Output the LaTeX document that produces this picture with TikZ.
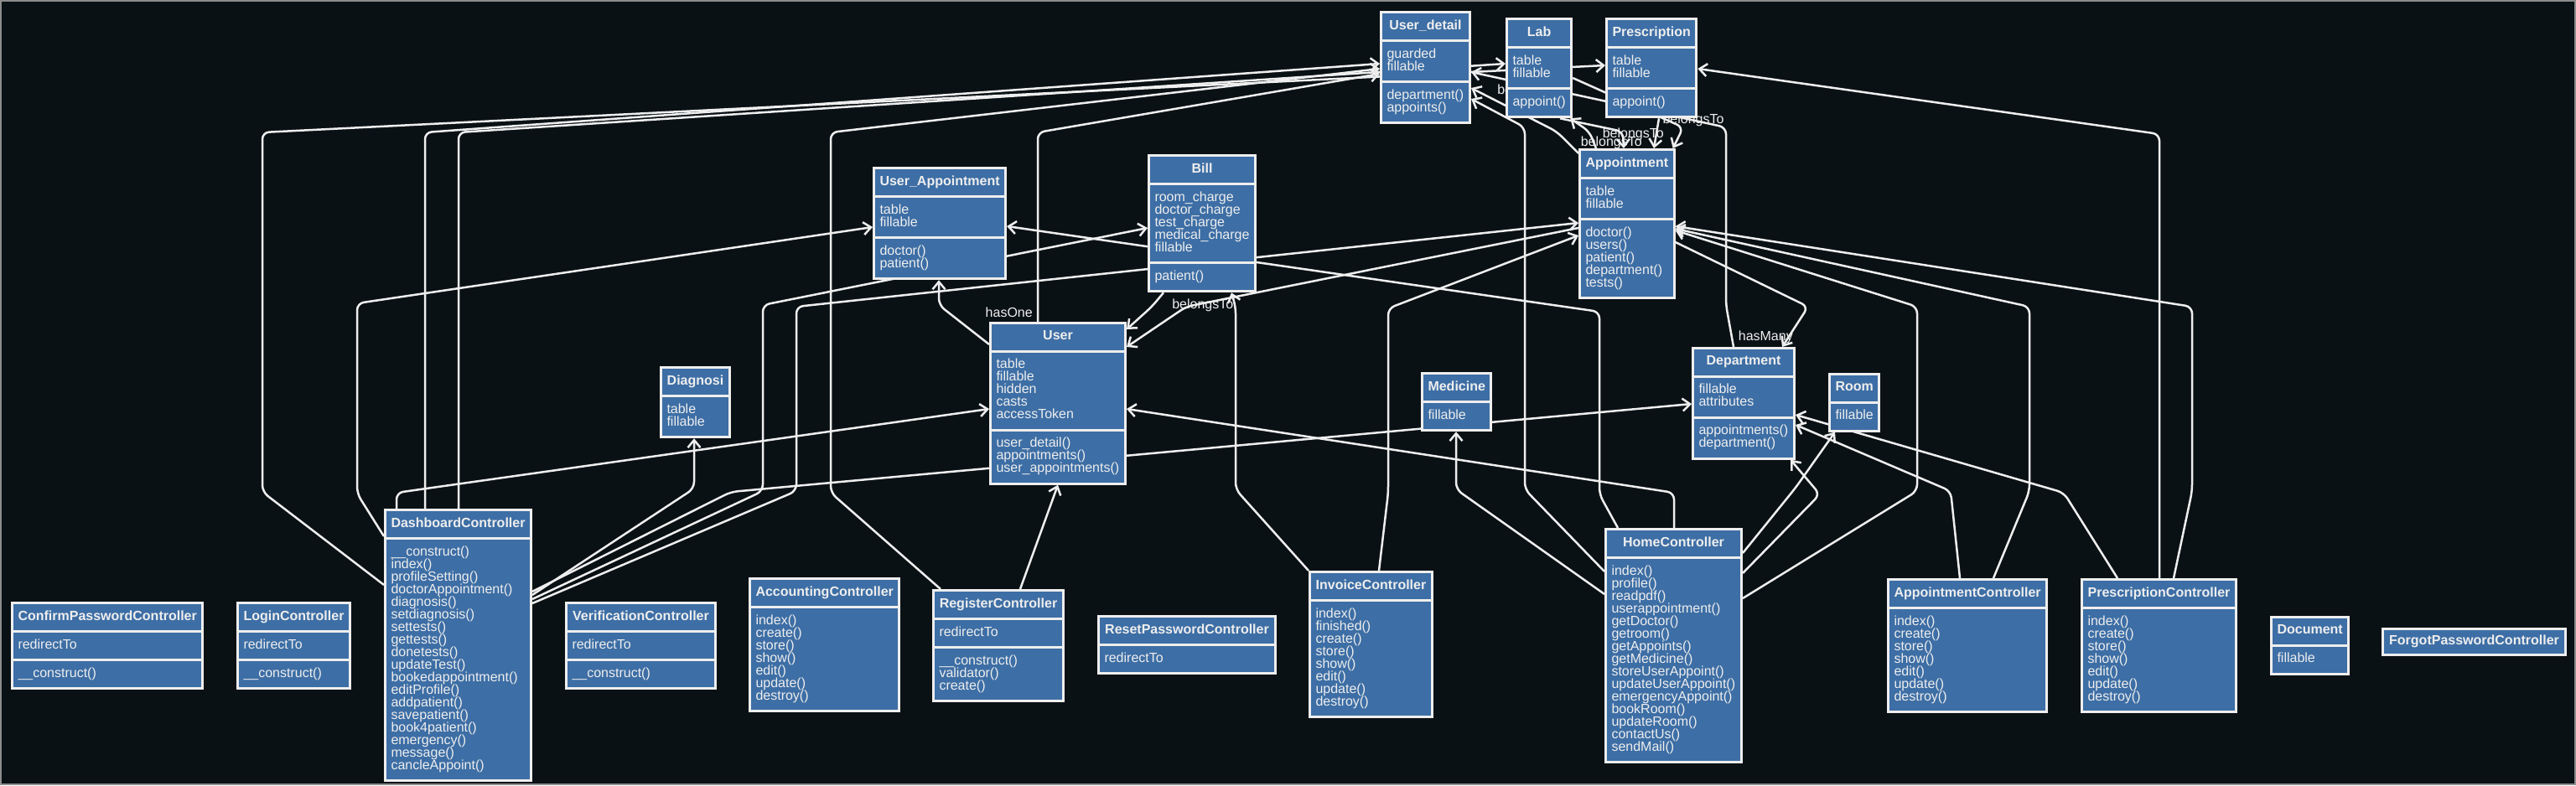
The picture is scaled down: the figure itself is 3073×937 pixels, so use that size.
\documentclass[tikz,border=0pt]{standalone}
\usepackage{fontspec}
\setmainfont{Liberation Sans}
\usetikzlibrary{arrows.meta, shapes.multipart}

\definecolor{bgclr}{HTML}{0A1115}
\definecolor{boxclr}{HTML}{3D6EA5}
\definecolor{lineclr}{HTML}{EEEEEE}
\definecolor{frameclr}{HTML}{8C8C8C}
\newcommand{\umlfont}{\fontsize{16}{15}\selectfont\lineskiplimit=-6pt\relax}
\pgfdeclarelayer{edgelayer}
\pgfsetlayers{edgelayer,main}

\begin{document}
\begin{tikzpicture}[x=1pt, y=-1pt, >={Straight Barb[length=9pt, width=15pt]},
    umlbox/.style={draw=lineclr, line width=3pt, fill=boxclr, text=lineclr, font=\umlfont, inner xsep=7pt, inner ysep=7.5pt, anchor=north west},
    umlclass/.style={umlbox, rectangle split, rectangle split parts=3, rectangle split part align={center,left,left}, align=left},
    umltwo/.style={umlclass, rectangle split parts=2},
    assoc/.style={->, draw=lineclr, line width=2.5pt, rounded corners=8pt},
    lbl/.style={text=lineclr, font=\umlfont, inner sep=1pt}]
\useasboundingbox (0,0) rectangle (3073,937);

\node[umlclass, minimum width=106pt] (ud) at (1646,13) {\textbf{User\_detail}\strut\nodepart{two}guarded\\fillable\strut\nodepart{three}department()\\appoints()\strut};
\node[umlclass, minimum width=77pt] (lab) at (1796,21) {\textbf{Lab}\strut\nodepart{two}table\\fillable\strut\nodepart{three}appoint()\strut};
\node[umlclass, minimum width=107pt] (presc) at (1915,21) {\textbf{Prescription}\strut\nodepart{two}table\\fillable\strut\nodepart{three}appoint()\strut};
\node[umlclass, minimum width=111pt] (appt) at (1883,177) {\textbf{Appointment}\strut\nodepart{two}table\\fillable\strut\nodepart{three}doctor()\\users()\\patient()\\department()\\tests()\strut};
\node[umlclass, minimum width=157pt] (uappt) at (1041,199) {\textbf{User\_Appointment}\strut\nodepart{two}table\\fillable\strut\nodepart{three}doctor()\\patient()\strut};
\node[umlclass, minimum width=127pt] (bill) at (1369,184) {\textbf{Bill}\strut\nodepart{two}room\_charge\\doctor\_charge\\test\_charge\\medical\_charge\\fillable\strut\nodepart{three}patient()\strut};
\node[umlclass, minimum width=161pt] (user) at (1180,384) {\textbf{User}\strut\nodepart{two}table\\fillable\\hidden\\casts\\accessToken\strut\nodepart{three}user\_detail()\\appointments()\\user\_appointments()\strut};
\node[umltwo, minimum width=82pt] (diag) at (787,437) {\textbf{Diagnosi}\strut\nodepart{two}table\\fillable\strut};
\node[umltwo, minimum width=82pt] (med) at (1695,444) {\textbf{Medicine}\strut\nodepart{two}fillable\strut};
\node[umlclass, minimum width=121pt] (dept) at (2018,414) {\textbf{Department}\strut\nodepart{two}fillable\\attributes\strut\nodepart{three}appointments()\\department()\strut};
\node[umltwo, minimum width=59pt] (room) at (2181,445) {\textbf{Room}\strut\nodepart{two}fillable\strut};
\node[umltwo, minimum width=92pt] (doc) at (2708,735) {\textbf{Document}\strut\nodepart{two}fillable\strut};

\node[umlclass, minimum width=227pt] (confirm) at (13,718) {\textbf{ConfirmPasswordController}\strut\nodepart{two}redirectTo\strut\nodepart{three}\_\_construct()\strut};
\node[umlclass, minimum width=134pt] (login) at (282,718) {\textbf{LoginController}\strut\nodepart{two}redirectTo\strut\nodepart{three}\_\_construct()\strut};
\node[umltwo, minimum width=174pt] (dash) at (458,607) {\textbf{DashboardController}\strut\nodepart{two}\_\_construct()\\index()\\profileSetting()\\doctorAppointment()\\diagnosis()\\setdiagnosis()\\settests()\\gettests()\\donetests()\\updateTest()\\bookedappointment()\\editProfile()\\addpatient()\\savepatient()\\book4patient()\\emergency()\\message()\\cancleAppoint()\strut};
\node[umlclass, minimum width=178pt] (verif) at (674,718) {\textbf{VerificationController}\strut\nodepart{two}redirectTo\strut\nodepart{three}\_\_construct()\strut};
\node[umltwo, minimum width=178pt] (account) at (893,689) {\textbf{AccountingController}\strut\nodepart{two}index()\\create()\\store()\\show()\\edit()\\update()\\destroy()\strut};
\node[umlclass, minimum width=155pt] (register) at (1112,703) {\textbf{RegisterController}\strut\nodepart{two}redirectTo\strut\nodepart{three}\_\_construct()\\validator()\\create()\strut};
\node[umltwo, minimum width=211pt] (reset) at (1309,734) {\textbf{ResetPasswordController}\strut\nodepart{two}redirectTo\strut};
\node[umltwo, minimum width=146pt] (invoice) at (1561,681) {\textbf{InvoiceController}\strut\nodepart{two}index()\\finished()\\create()\\store()\\show()\\edit()\\update()\\destroy()\strut};
\node[umltwo, minimum width=162pt] (home) at (1914,630) {\textbf{HomeController}\strut\nodepart{two}index()\\profile()\\readpdf()\\userappointment()\\getDoctor()\\getroom()\\getAppoints()\\getMedicine()\\storeUserAppoint()\\updateUserAppoint()\\emergencyAppoint()\\bookRoom()\\updateRoom()\\contactUs()\\sendMail()\strut};
\node[umltwo, minimum width=189pt] (apptc) at (2251,690) {\textbf{AppointmentController}\strut\nodepart{two}index()\\create()\\store()\\show()\\edit()\\update()\\destroy()\strut};
\node[umltwo, minimum width=184pt] (prescc) at (2482,690) {\textbf{PrescriptionController}\strut\nodepart{two}index()\\create()\\store()\\show()\\edit()\\update()\\destroy()\strut};
\node[umlbox, minimum width=218pt] (forgot) at (2841,749) {\textbf{ForgotPasswordController}\strut};

\begin{pgfonlayer}{edgelayer}
\fill[bgclr] (0,0) rectangle (3073,937);
\draw[frameclr, line width=2pt] (1,1) rectangle (3072,936);

\draw[assoc] ([yshift=-91pt]dash.north west) -- (313,587) -- (313,158) -- ([yshift=-57pt]presc.north west);
\draw[assoc] ([xshift=49pt]dash.north west) -- (507,158) -- ([yshift=-63pt]ud.north west);
\draw[assoc] ([xshift=89pt]dash.north west) -- (547,158) -- ([yshift=-55pt]lab.north west);
\draw[assoc] ([yshift=-33pt]dash.north west) -- (426,589) -- (426,362) -- ([yshift=-72pt]uappt.north west);
\draw[assoc] ([xshift=15pt]dash.north west) -- (473,588) -- ([yshift=-104pt]user.north west);
\draw[assoc] ([yshift=-103pt]dash.north east) -- (828,583) -- ([xshift=41pt]diag.south west);
\draw[assoc] ([yshift=-108pt]dash.north east) -- (910,586) -- (910,364) -- ([yshift=-88pt]bill.north west);
\draw[assoc] ([yshift=-113pt]dash.north east) -- (950,586) -- (950,366) -- ([yshift=-89pt]appt.north west);
\draw[assoc] ([yshift=-99pt]dash.north east) -- (872,587) -- ([yshift=-68pt]dept.north west);

\draw[assoc] ([xshift=10pt]register.north west) -- (991,588) -- (991,158) -- ([yshift=-69pt]ud.north west);
\draw[assoc] ([xshift=105pt]register.north west) -- ([xshift=82pt]user.south west);

\draw[assoc] ([xshift=58pt]user.north west) node[lbl, anchor=south east, xshift=-4pt, yshift=3pt] {hasOne} -- (1238,158) -- ([yshift=-75pt]ud.north west);
\draw[assoc] ([yshift=-27pt]user.north west) -- (1120,364) -- ([xshift=79pt]uappt.south west);
\draw[assoc] ([yshift=-95pt]appt.north west) -- (1415,366) -- ([yshift=-30pt]user.north east);
\draw[assoc] ([xshift=19pt]bill.south west) node[lbl, anchor=north west, xshift=8pt, yshift=-5pt] {belongsTo} -- (1374,366) -- ([yshift=-9pt]user.north east);

\draw[assoc] ([xshift=16pt]home.north west) -- (1908,590) -- (1908,372) -- ([yshift=-71pt]uappt.north east);
\draw[assoc] ([xshift=83pt]home.north west) -- (1997,588) -- ([yshift=-104pt]user.north east);
\draw[assoc] ([yshift=-79pt]home.north west) -- (1737,584) -- ([xshift=42pt]med.south west);
\draw[assoc] ([yshift=-52pt]home.north west) -- (1819,584) -- (1819,152) -- ([yshift=-105pt]ud.north east);
\draw[assoc] ([yshift=-84pt]home.north east) -- (2287,586) -- (2287,366) -- ([yshift=-98pt]appt.north east);
\draw[assoc] ([yshift=-30pt]home.north east) -- (2142,582) -- ([xshift=8pt]room.south west);
\draw[assoc] ([yshift=-54pt]home.north east) -- (2171,590) -- ([xshift=-6pt]dept.south east);

\draw[assoc] ([xshift=87pt]apptc.north west) -- (2327,586) -- ([yshift=-93pt]dept.north east);
\draw[assoc] ([xshift=127pt]apptc.north west) -- (2421,586) -- (2421,366) -- ([yshift=-96pt]appt.north east);

\draw[assoc] ([xshift=44pt]prescc.north west) -- (2462,588) -- ([yshift=-81pt]dept.north east);
\draw[assoc] ([xshift=94pt]prescc.north west) -- (2576,160) -- ([yshift=-61pt]presc.north east);
\draw[assoc] ([xshift=111pt]prescc.north west) -- (2615,586) -- (2615,366) -- ([yshift=-93pt]appt.north east);

\draw[assoc] (invoice.north west) -- (1474,584) -- (1474,366) -- ([xshift=100pt]bill.south west);
\draw[assoc] ([xshift=84pt]invoice.north west) -- (1656,588) -- (1656,368) -- ([yshift=-104pt]appt.north west);

\draw[assoc] ([yshift=-112pt]appt.north east) -- (2157,366) -- ([xshift=108pt]dept.north west) node[lbl, anchor=south east, xshift=15pt, yshift=2pt] {hasMany};
\draw[assoc] ([xshift=50pt]dept.north west) -- (2059,364) -- (2059,152) -- ([yshift=-73pt]ud.north east);
\draw[assoc] ([yshift=-6pt]appt.north west) -- (1857,157) -- ([yshift=-92pt]ud.north east) node[lbl, anchor=west, xshift=29pt, yshift=-3pt] {belongsTo};
\draw[assoc] ([xshift=21pt]appt.north west) -- (1896,157) -- ([xshift=-3pt]lab.south east);
\draw[assoc] ([xshift=65pt]lab.south west) -- (1936,157) -- ([xshift=54pt]appt.north west) node[lbl, anchor=south east, xshift=24pt, yshift=-3pt] {belongsTo};
\draw[assoc] ([xshift=64pt]presc.south west) -- ([xshift=90pt]appt.north west) node[lbl, anchor=south east, xshift=14pt, yshift=7pt] {belongsTo};
\draw[assoc] ([yshift=-72pt]lab.north east) -- (2008,152) node[lbl, xshift=12pt, yshift=9pt] {belongsTo} -- ([xshift=-3pt]appt.north east);
\end{pgfonlayer}
\end{tikzpicture}
\end{document}
